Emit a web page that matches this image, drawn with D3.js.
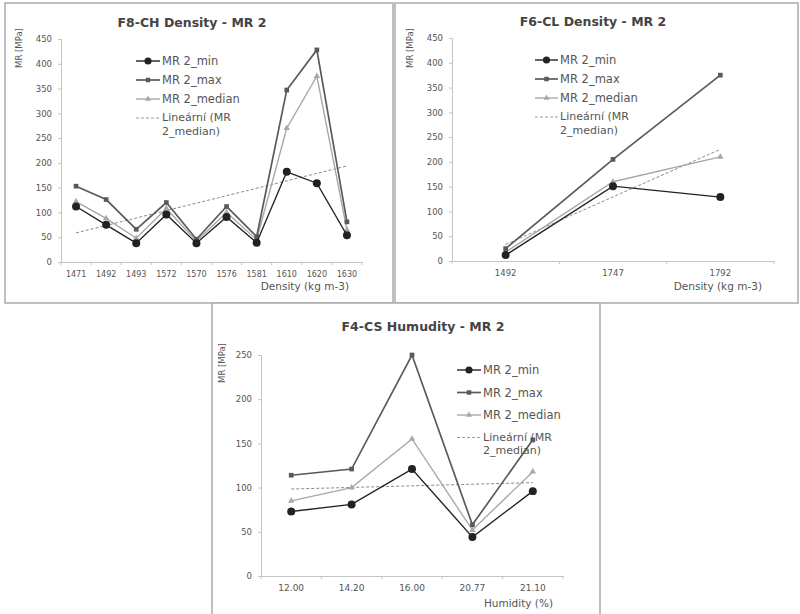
<!DOCTYPE html>
<html>
<head>
<meta charset="utf-8">
<script src="https://cdn.jsdelivr.net/npm/d3@7"></script>
<style>
  html, body { margin: 0; padding: 0; background: #fff; }
  svg { display: block; font-family: "DejaVu Sans", "Liberation Sans", sans-serif; }
</style>
</head>
<body>
<svg id="chart" width="800" height="614"></svg>
<script>
// ---- F8-CH Density ----
const chDensity = ["1471", "1492", "1493", "1572", "1570", "1576", "1581", "1610", "1620", "1630"];
const chMin     = [112, 75, 38, 96, 38, 91, 39, 182, 159, 54];
const chMax     = [153, 126, 66, 120, 46, 112, 51, 347, 428, 81];
const chMedian  = [122, 88, 48, 108, 42, 100, 45, 270, 375, 65];

// ---- F6-CL Density ----
const clDensity = ["1492", "1747", "1792"];
const clMin     = [12, 151, 129];
const clMax     = [25, 205, 375];
const clMedian  = [18, 160, 210];

// ---- F4-CS Humidity ----
const csHumidity = ["12.00", "14.20", "16.00", "20.77", "21.10"];
const csMin      = [73, 81, 121, 44, 96];
const csMax      = [114, 121, 250, 58, 154];
const csMedian   = [85, 100, 155, 52, 118];

const yTicksDensity  = [0, 50, 100, 150, 200, 250, 300, 350, 400, 450];
const yTicksHumidity = [0, 50, 100, 150, 200, 250];

const seriesNames = ["MR 2_min", "MR 2_max", "MR 2_median"];
const trendName = ["Lineární (MR", "2_median)"];

const svg = d3.select("#chart");
const axisColor = "#c4c4c4";
const textColor = "#555";

// least-squares line through (index, value)
function linearFit(vals) {
  const n = vals.length;
  const mx = d3.mean(vals, (d, i) => i);
  const my = d3.mean(vals);
  let sxy = 0, sxx = 0;
  vals.forEach((v, i) => { sxy += (i - mx) * (v - my); sxx += (i - mx) * (i - mx); });
  const b = sxy / sxx, a = my - b * mx;
  return [[0, a], [n - 1, a + b * (n - 1)]];
}

function drawPanel(cfg) {
  const g = svg.append("g");

  // frame
  g.append("rect")
    .attr("x", cfg.box[0]).attr("y", cfg.box[1])
    .attr("width", cfg.box[2]).attr("height", cfg.box[3])
    .attr("fill", "#fff").attr("stroke", "#b0b0b0").attr("stroke-width", 1.6);

  const x = d3.scaleBand()
    .domain(d3.range(cfg.cats.length))
    .range([cfg.plot.x0, cfg.plot.x1]);
  const y = d3.scaleLinear()
    .domain([0, d3.max(cfg.yTicks)])
    .range([cfg.plot.y0, cfg.plot.yTop]);
  const cx = i => x(i) + x.bandwidth() / 2;

  // x axis
  const xa = g.append("g")
    .attr("transform", `translate(0,${cfg.plot.y0})`)
    .call(d3.axisBottom(x).tickSize(0).tickPadding(9).tickFormat(i => cfg.cats[i]));
  xa.select(".domain").attr("stroke", axisColor);
  xa.selectAll("text").attr("fill", textColor).attr("font-size", cfg.xFont)
    .attr("font-family", "DejaVu Sans");
  // small separators between categories
  g.selectAll(".sep").data(d3.range(cfg.cats.length + 1)).join("line")
    .attr("x1", i => cfg.plot.x0 + i * x.step()).attr("x2", i => cfg.plot.x0 + i * x.step())
    .attr("y1", cfg.plot.y0).attr("y2", cfg.plot.y0 + 3)
    .attr("stroke", axisColor);

  // y axis
  const ya = g.append("g")
    .attr("transform", `translate(${cfg.plot.x0},0)`)
    .call(d3.axisLeft(y).tickValues(cfg.yTicks).tickSize(3).tickPadding(6));
  ya.select(".domain").attr("stroke", axisColor);
  ya.selectAll(".tick line").attr("stroke", axisColor);
  ya.selectAll("text").attr("fill", textColor).attr("font-size", 8.5)
    .attr("font-family", "DejaVu Sans");

  // titles
  g.append("text")
    .attr("x", cfg.title[1]).attr("y", cfg.title[2])
    .attr("text-anchor", "middle").attr("font-size", 12.5).attr("font-weight", "bold")
    .attr("fill", "#444").text(cfg.title[0]);
  g.append("text")
    .attr("transform", `translate(${cfg.yLabel[0]},${cfg.yLabel[1]}) rotate(-90)`)
    .attr("text-anchor", "middle").attr("font-size", 8.5).attr("fill", textColor)
    .text("MR [MPa]");
  g.append("text")
    .attr("x", cfg.xLabel[1]).attr("y", cfg.xLabel[2])
    .attr("text-anchor", "end").attr("font-size", 10.5).attr("fill", textColor)
    .text(cfg.xLabel[0]);

  // trend of median
  const fit = linearFit(cfg.median);
  g.append("line")
    .attr("x1", cx(fit[0][0])).attr("y1", y(fit[0][1]))
    .attr("x2", cx(fit[1][0])).attr("y2", y(fit[1][1]))
    .attr("stroke", "#8a8a8a").attr("stroke-width", 1).attr("stroke-dasharray", "3,2");

  const line = d3.line().x((d, i) => cx(i)).y(d => y(d));
  const styles = [
    { data: cfg.min,    color: "#222",    width: 1.4, marker: "circle" },
    { data: cfg.max,    color: "#5a5a5a", width: 1.7, marker: "square" },
    { data: cfg.median, color: "#a8a8a8", width: 1.4, marker: "triangle" }
  ];
  const symOf = m => m === "circle" ? d3.symbolCircle
                   : m === "square" ? d3.symbolSquare : d3.symbolTriangle;
  // median first so the darker lines sit on top
  [2, 1, 0].forEach(k => {
    const s = styles[k];
    g.append("path").datum(s.data)
      .attr("d", line).attr("fill", "none")
      .attr("stroke", s.color).attr("stroke-width", s.width);
    const size = s.marker === "circle" ? 50 : s.marker === "square" ? 22 : 18;
    g.selectAll(null).data(s.data).join("path")
      .attr("transform", (d, i) => `translate(${cx(i)},${y(d)})`)
      .attr("d", d3.symbol(symOf(s.marker), size)).attr("fill", s.color);
  });

  // legend
  const L = cfg.legend;
  styles.forEach((s, k) => {
    const ly = L.y + k * L.dy;
    g.append("line").attr("x1", L.x).attr("x2", L.x + L.len)
      .attr("y1", ly).attr("y2", ly).attr("stroke", s.color).attr("stroke-width", s.width);
    const size = s.marker === "circle" ? 40 : s.marker === "square" ? 20 : 16;
    g.append("path").attr("transform", `translate(${L.x + L.len / 2},${ly})`)
      .attr("d", d3.symbol(symOf(s.marker), size)).attr("fill", s.color);
    g.append("text").attr("x", L.x + L.len + 2).attr("y", ly + 4)
      .attr("font-size", 11.5).attr("fill", textColor).text(seriesNames[k]);
  });
  const ty = L.y + 3 * L.dy;
  g.append("line").attr("x1", L.x).attr("x2", L.x + L.len)
    .attr("y1", ty).attr("y2", ty).attr("stroke", "#9a9a9a").attr("stroke-width", 1)
    .attr("stroke-dasharray", "3,2");
  trendName.forEach((t, j) => {
    g.append("text").attr("x", L.x + L.len + 2).attr("y", ty + 3 + j * 13.5)
      .attr("font-size", 11).attr("fill", textColor).text(t);
  });
}

drawPanel({
  box: [5, 3, 388, 300],
  plot: { x0: 61, x1: 362, yTop: 39, y0: 262 },
  cats: chDensity, min: chMin, max: chMax, median: chMedian,
  yTicks: yTicksDensity, xFont: 8,
  title: ["F8-CH Density - MR 2", 192, 27],
  yLabel: [22, 48],
  xLabel: ["Density (kg m-3)", 349, 290],
  legend: { x: 136, y: 61, dy: 19, len: 24 }
});

drawPanel({
  box: [395, 3, 403, 300],
  plot: { x0: 452, x1: 774, yTop: 38, y0: 261 },
  cats: clDensity, min: clMin, max: clMax, median: clMedian,
  yTicks: yTicksDensity, xFont: 8.5,
  title: ["F6-CL Density - MR 2", 593, 26],
  yLabel: [413, 48],
  xLabel: ["Density (kg m-3)", 762, 290],
  legend: { x: 535, y: 60, dy: 19, len: 23 }
});

drawPanel({
  box: [212, 303, 388, 320],
  plot: { x0: 261, x1: 563, yTop: 355, y0: 576 },
  cats: csHumidity, min: csMin, max: csMax, median: csMedian,
  yTicks: yTicksHumidity, xFont: 9,
  title: ["F4-CS Humudity - MR 2", 423, 331],
  yLabel: [225, 363],
  xLabel: ["Humidity (%)", 553, 607],
  legend: { x: 457, y: 370, dy: 22.5, len: 24 }
});
</script>
</body>
</html>
